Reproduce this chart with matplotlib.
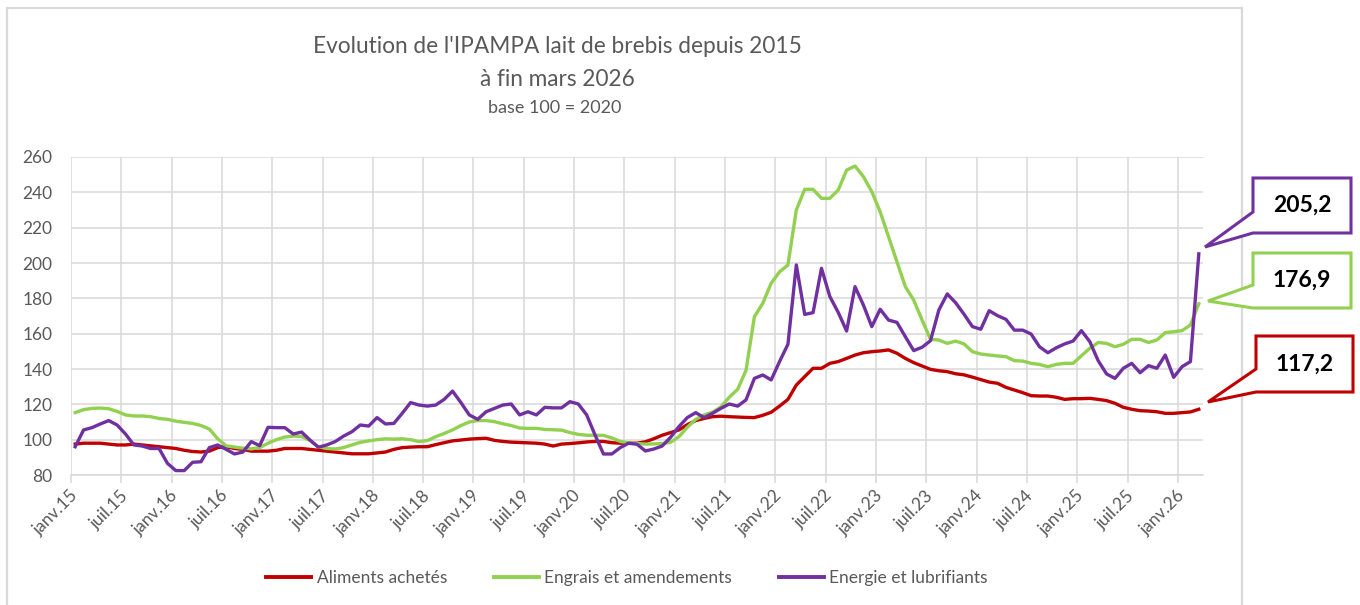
import matplotlib
matplotlib.use("Agg")
import matplotlib.pyplot as plt
from matplotlib.patches import Polygon, Rectangle
from matplotlib.lines import Line2D
import numpy as np

plt.rcParams['font.family'] = ['Lato', 'DejaVu Sans']

# ---------------- data ----------------
years = list(range(15, 27))
tick_labels = []
for y in years:
    tick_labels.append(f"janv.{y}")
    if y < 26:
        tick_labels.append(f"juil.{y}")

aliments = [
    97.5, 98, 98, 98, 97.5, 97, 97, 97.5, 97, 96.5,
    96, 95.5, 95, 94, 93.3, 93, 93.5, 95.5, 96, 95,
    94.5, 93.5, 93.5, 93.5, 94, 95, 95, 95, 94.5, 94,
    93.5, 93, 92.5, 92, 92, 92, 92.5, 93, 94.5, 95.5,
    95.8, 96, 96, 97.2, 98.3, 99.3, 99.8, 100.3, 100.6, 100.8,
    99.6, 99, 98.6, 98.4, 98.2, 98, 97.5, 96.4, 97.5, 97.8,
    98.2, 98.7, 99, 99, 98.3, 98, 98, 98, 98.8, 100.5,
    102.5, 104, 105.5, 108.5, 110.8, 112, 113, 113.3, 113, 112.8,
    112.6, 112.5, 113.8, 115.5, 119, 122.8, 130.9, 135.7, 140.4, 140.4,
    143.2, 144.2, 146, 147.9, 149.2, 149.8, 150.2, 150.8, 148.9, 146,
    143.6, 141.7, 139.8, 139, 138.5, 137.3, 136.7, 135.4, 134, 132.6,
    131.9, 129.6, 128.1, 126.6, 124.9, 124.7, 124.7, 124, 122.8, 123.2,
    123.2, 123.4, 122.8, 122.1, 120.6, 118.3, 117.2, 116.4, 116.2, 115.8,
    114.9, 114.9, 115.3, 115.7, 117.2,
]

engrais = [
    115.3, 117, 117.7, 117.9, 117.5, 116, 114, 113.4, 113.4, 113,
    112, 111.5, 110.5, 109.8, 109.2, 108, 106, 100.5, 96.5, 95.8,
    95.2, 94.8, 95.5, 98, 100, 101.5, 102, 101.8, 99.5, 96,
    95, 94.7, 95.5, 97, 98.5, 99.3, 100, 100.5, 100.3, 100.5,
    100, 98.9, 99.5, 101.7, 103.5, 105.5, 108, 110, 110.8, 110.8,
    110.2, 109, 108, 106.6, 106.4, 106.4, 105.8, 105.6, 105.4, 104,
    103, 102.5, 102.5, 102.4, 101, 99, 98.2, 97.8, 97.5, 97.6,
    97.8, 98.5, 101.7, 107, 111.5, 114, 115.5, 118.5, 124, 128.5,
    139.2, 169.6, 177.2, 188.5, 195, 198.9, 230, 241.7, 241.7, 236.6,
    236.6, 241.3, 252.6, 254.9, 248.9, 240.4, 229, 214.9, 200.8, 186.6,
    179, 167.7, 156.8, 156.4, 154.5, 155.8, 154.2, 149.8, 148.5, 147.9,
    147.4, 147, 144.7, 144.5, 143.2, 142.6, 141.3, 142.6, 143.2, 143.2,
    147.5, 151.7, 155, 154.5, 152.6, 154, 156.8, 156.8, 155, 156.4,
    160.6, 161.1, 161.7, 164.9, 176.9,
]

energie = [
    96, 105.5, 106.8, 108.9, 110.8, 108.3, 103.2, 97, 96.4, 95,
    95, 86.6, 82.5, 82.5, 87.2, 87.5, 95.5, 97, 94.5, 91.9,
    93, 98.9, 96.6, 107, 106.8, 106.8, 103.2, 104.3, 99.8, 95.7,
    97, 98.9, 102, 104.5, 108.3, 107.7, 112.5, 108.9, 109.2, 114.9,
    121, 119.6, 119, 119.6, 122.8, 127.5, 121, 114, 111.5, 115.8,
    117.7, 119.6, 120.2, 114, 115.8, 114, 118.3, 118, 118, 121.5,
    120.2, 114, 102.6, 91.9, 91.9, 95.5, 98, 97.4, 93.6, 94.7,
    96.4, 101.3, 107.4, 112.5, 115.3, 112.5, 114.9, 117.7, 120.2, 119,
    122.5, 134.7, 136.6, 133.8, 144.2, 154, 198.9, 170.9, 171.9, 197,
    181, 172, 161.5, 186.6, 176.2, 164, 173.8, 167.7, 166.4, 158.3,
    150.4, 152.3, 156, 173.4, 182.5, 177.5, 171, 164, 162.5, 173,
    170.2, 168.1, 162, 162, 159.8, 152.6, 149.2, 152, 154.2, 155.8,
    161.7, 155.5, 144.7, 137.2, 134.7, 140.4, 143.2, 137.9, 141.9, 140.4,
    147.9, 135.3, 141.3, 144.2, 205.2,
]

series_names = ["Aliments achetés", "Engrais et amendements", "Energie et lubrifiants"]
series_colors = ["#C00000", "#92D050", "#7030A0"]
last_labels = ["117,2", "176,9", "205,2"]

title_lines = ["Evolution de l'IPAMPA lait de brebis depuis 2015", "à fin mars 2026"]
subtitle = "base 100 = 2020"

# ---------------- figure ----------------
W, H = 1360, 605
fig = plt.figure(figsize=(W / 100, H / 100), dpi=100)
fig.patch.set_facecolor("white")

def fx(px):
    return px / W

def fy(py):
    return 1 - py / H

ax = fig.add_axes([fx(71), fy(475), fx(1203) - fx(71), fy(157) - fy(475)])
n = len(aliments)
x = np.arange(n)

grid_c = "#D9D9D9"
text_c = "#595959"

for vals, col, name in zip([aliments, engrais, energie], series_colors, series_names):
    ax.plot(x, vals, color=col, lw=2.4, label=name, solid_joinstyle="round", zorder=3)

ax.set_xlim(-0.5, n - 0.5)
ax.set_ylim(80, 260)
ax.set_yticks(np.arange(80, 261, 20))
ax.yaxis.grid(True, color=grid_c, lw=1.1)

major = np.arange(0, n, 6)
ax.set_xticks(major)
ax.set_xticklabels(tick_labels[:len(major)])
ax.set_xticks(major - 0.5, minor=True)
ax.xaxis.grid(True, which="minor", color=grid_c, lw=1.1)
ax.tick_params(axis="x", which="major", length=0, pad=13, labelsize=12.5, labelcolor=text_c)
ax.tick_params(axis="x", which="minor", length=6, color=grid_c, width=1.1)
ax.tick_params(axis="y", length=0, pad=13.5, labelsize=12.5, labelcolor=text_c)
for lab in ax.get_xticklabels():
    lab.set_rotation(45)
    lab.set_ha("right")
    lab.set_va("center")
    lab.set_rotation_mode("anchor")

for s in ["top", "right", "left"]:
    ax.spines[s].set_visible(False)
ax.spines["bottom"].set_color(grid_c)
ax.spines["bottom"].set_linewidth(1.1)
ax.set_axisbelow(True)

# outer chart border
fig.patches.append(Rectangle((fx(6.5), fy(640)), fx(1241.5) - fx(6.5), fy(7.5) - fy(640),
                             transform=fig.transFigure, fill=False, ec=grid_c, lw=1.6))

# titles
fig.text(fx(557), fy(53), title_lines[0], ha="center", va="baseline", fontsize=16.3, color=text_c)
fig.text(fx(557), fy(86), title_lines[1], ha="center", va="baseline", fontsize=16.3, color=text_c)
fig.text(fx(555), fy(113), subtitle, ha="center", va="baseline", fontsize=13, color=text_c)

# legend
handles = [Line2D([0], [0], color=c, lw=2.8) for c in series_colors]
fig.legend(handles, series_names, loc="center", bbox_to_anchor=(fx(627), fy(578)),
           ncol=3, frameon=False, fontsize=12.5, labelcolor=text_c,
           handlelength=2.6, handletextpad=0.3, columnspacing=2.7)

# callouts (pixel layout, top-left origin)
callouts = [
    # box left, top, right, bottom, tip x, tip y, wedge top y
    (1256, 336, 1353, 392, 1208, 402, 369),
    (1253, 253, 1351, 308, 1208, 301, 285),
    (1253, 178, 1351, 233, 1205, 247, 212),
]
for (l, t, r, b, tx, ty, wy), col, lab in zip(callouts, series_colors, last_labels):
    pts = [(l, t), (r, t), (r, b), (l, b), (tx, ty), (l, wy)]
    pts = [(fx(px), fy(py)) for px, py in pts]
    fig.patches.append(Polygon(pts, closed=True, transform=fig.transFigure,
                               fc="white", ec=col, lw=2.2, joinstyle="miter"))
    fig.text(fx((l + r) / 2), fy((t + b) / 2), lab, ha="center", va="center",
             fontsize=16.5, fontweight="bold", color="black")

fig.savefig("out.png", dpi=100, facecolor="white")
